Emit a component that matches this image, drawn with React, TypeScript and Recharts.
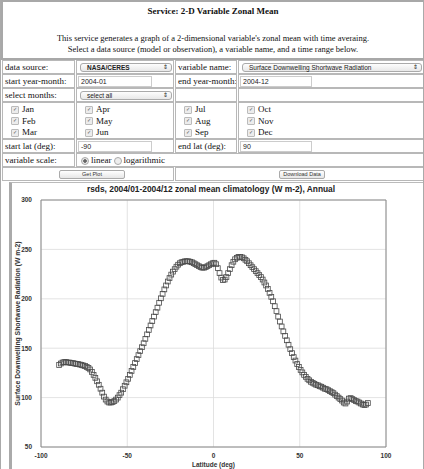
import React from 'react';
import { ScatterChart, Scatter, XAxis, YAxis, CartesianGrid, ReferenceArea } from 'recharts';

const latitudes = [
  -89.5, -88.5, -87.5, -86.5, -85.5, -84.5, -83.5, -82.5, -81.5, -80.5,
  -79.5, -78.5, -77.5, -76.5, -75.5, -74.5, -73.5, -72.5, -71.5, -70.5,
  -69.5, -68.5, -67.5, -66.5, -65.5, -64.5, -63.5, -62.5, -61.5, -60.5,
  -59.5, -58.5, -57.5, -56.5, -55.5, -54.5, -53.5, -52.5, -51.5, -50.5,
  -49.5, -48.5, -47.5, -46.5, -45.5, -44.5, -43.5, -42.5, -41.5, -40.5,
  -39.5, -38.5, -37.5, -36.5, -35.5, -34.5, -33.5, -32.5, -31.5, -30.5,
  -29.5, -28.5, -27.5, -26.5, -25.5, -24.5, -23.5, -22.5, -21.5, -20.5,
  -19.5, -18.5, -17.5, -16.5, -15.5, -14.5, -13.5, -12.5, -11.5, -10.5,
  -9.5, -8.5, -7.5, -6.5, -5.5, -4.5, -3.5, -2.5, -1.5, -0.5,
  0.5, 1.5, 2.5, 3.5, 4.5, 5.5, 6.5, 7.5, 8.5, 9.5,
  10.5, 11.5, 12.5, 13.5, 14.5, 15.5, 16.5, 17.5, 18.5, 19.5,
  20.5, 21.5, 22.5, 23.5, 24.5, 25.5, 26.5, 27.5, 28.5, 29.5,
  30.5, 31.5, 32.5, 33.5, 34.5, 35.5, 36.5, 37.5, 38.5, 39.5,
  40.5, 41.5, 42.5, 43.5, 44.5, 45.5, 46.5, 47.5, 48.5, 49.5,
  50.5, 51.5, 52.5, 53.5, 54.5, 55.5, 56.5, 57.5, 58.5, 59.5,
  60.5, 61.5, 62.5, 63.5, 64.5, 65.5, 66.5, 67.5, 68.5, 69.5,
  70.5, 71.5, 72.5, 73.5, 74.5, 75.5, 76.5, 77.5, 78.5, 79.5,
  80.5, 81.5, 82.5, 83.5, 84.5, 85.5, 86.5, 87.5, 88.5, 89.5,
];

const rsds = [
  133, 134.5, 135.5, 136, 136, 135.5, 135.5, 135, 135, 134.5,
  134, 134, 133.5, 133, 132.5, 132, 131, 130, 128.5, 126,
  123, 120, 116.5, 113, 109, 105, 101, 98, 96, 95,
  95, 95.5, 96.5, 98, 100, 102.5, 105, 108.5, 112, 115.5,
  119, 123, 127, 131, 135, 139, 143, 147, 151, 155,
  159.5, 164, 168.5, 173, 177.5, 182, 186.5, 191, 196, 200.5,
  205, 209.5, 213.5, 217.5, 221, 224.5, 227.5, 230, 232.5, 234.5,
  236, 237, 237.5, 238, 238, 238, 237.5, 237, 236, 235,
  234, 233, 232, 231.5, 231.5, 232, 233, 234, 235, 236,
  236.5, 235, 231, 226, 221.5, 219, 219.5, 222, 226, 230,
  234, 237.5, 240, 241.5, 242.5, 242.5, 242, 241, 239.5, 238,
  236, 234, 232, 230, 228, 226, 224, 222, 219.5, 216.5,
  213.5, 210, 206, 202, 197.5, 192.5, 187.5, 182, 177, 172,
  167, 162.5, 158, 153.5, 149, 145, 141, 137.5, 134, 131,
  128, 125.5, 123, 121, 119, 117.5, 116, 115, 114, 113,
  112.5, 111.5, 111, 110, 109, 108.5, 107.5, 106.5, 105.5, 104.5,
  103, 101.5, 100, 98.5, 97, 95, 94, 96, 99, 99.5,
  98.5, 97.5, 96.5, 96, 95, 94, 93, 92.5, 93, 94.5,
];

const xTicks = [-100, -50, 0, 50, 100];
const yTicks = [50, 100, 150, 200, 250, 300];

const pageTitle = 'Service: 2-D Variable Zonal Mean';
const descLines = [
  "This service generates a graph of a 2-dimensional variable's zonal mean with time averaing.",
  'Select a data source (model or observation), a variable name, and a time range below.',
];
const monthCols = [
  ['Jan', 'Feb', 'Mar'],
  ['Apr', 'May', 'Jun'],
  ['Jul', 'Aug', 'Sep'],
  ['Oct', 'Nov', 'Dec'],
];
const chartTitle = 'rsds, 2004/01-2004/12 zonal mean climatology (W m-2), Annual';
const yLabel = 'Surface Downwelling Shortwave Radiation (W m-2)';
const xLabel = 'Latitude (deg)';

const data = latitudes.map((lat, i) => ({ lat, rsds: rsds[i] }));

const SERIF = '"Liberation Serif", "DejaVu Serif", serif';
const SANS = '"Liberation Sans", Arial, sans-serif';

const COLS: [number, number][] = [
  [1, 74],
  [75, 173],
  [174, 236],
  [237, 423],
];

const Cell = ({ x, y, w, h, children, style }: any) => (
  <div
    style={{
      position: 'absolute',
      left: x,
      top: y,
      width: w,
      height: h,
      boxSizing: 'border-box',
      border: '1px solid #b8b8b8',
      fontFamily: SERIF,
      fontSize: 9,
      color: '#111',
      lineHeight: `${h - 2}px`,
      paddingLeft: 2,
      whiteSpace: 'nowrap',
      overflow: 'hidden',
      ...style,
    }}
  >
    {children}
  </div>
);

const cell = (c0: number, c1: number) => ({ x: COLS[c0][0], w: COLS[c1][1] - COLS[c0][0] });

const SelectBox = ({ w, text }: any) => (
  <div
    style={{
      position: 'absolute',
      left: 3,
      top: 2,
      width: w,
      height: 9,
      boxSizing: 'border-box',
      border: '1px solid #aaa',
      borderRadius: 3,
      background: 'linear-gradient(#fdfdfd, #e8e8e8)',
      fontFamily: SANS,
      fontSize: 6.5,
      lineHeight: '7px',
      paddingLeft: 6,
      color: '#222',
    }}
  >
    {text}
    <span style={{ position: 'absolute', right: 3, top: 0, fontSize: 6 }}>⇕</span>
  </div>
);

const InputBox = ({ w, text }: any) => (
  <div
    style={{
      position: 'absolute',
      left: 1,
      top: 1,
      width: w,
      height: 11,
      boxSizing: 'border-box',
      border: '1px solid #ccc',
      fontFamily: SANS,
      fontSize: 7,
      lineHeight: '9px',
      paddingLeft: 2,
      color: '#222',
    }}
  >
    {text}
  </div>
);

const Check = () => (
  <span
    style={{
      display: 'inline-block',
      width: 6,
      height: 6,
      border: '1px solid #bbb',
      borderRadius: 1,
      background: '#ececec',
      fontSize: 5,
      lineHeight: '6px',
      textAlign: 'center',
      verticalAlign: 'middle',
      marginRight: 3,
      color: '#555',
    }}
  >
    ✓
  </span>
);

const Radio = ({ on }: any) => (
  <span
    style={{
      display: 'inline-block',
      width: 6,
      height: 6,
      border: '1px solid #aaa',
      borderRadius: 4,
      background: on ? 'radial-gradient(#666 0, #666 1.5px, #e6e6e6 2px)' : '#eee',
      verticalAlign: 'middle',
      marginRight: 2,
      marginLeft: 2,
    }}
  />
);

const Button = ({ x, w, text }: any) => (
  <div
    style={{
      position: 'absolute',
      left: x,
      top: 2,
      width: w,
      height: 9,
      boxSizing: 'border-box',
      border: '1px solid #aaa',
      borderRadius: 2,
      background: 'linear-gradient(#fff, #e6e6e6)',
      fontFamily: SANS,
      fontSize: 5.5,
      lineHeight: '7px',
      textAlign: 'center',
      color: '#333',
    }}
  >
    {text}
  </div>
);

const SquareMarker = (props: any) => {
  const { cx, cy } = props;
  if (cx == null || cy == null) return null;
  return <rect x={cx - 2.4} y={cy - 2.4} width={4.8} height={4.8} fill="none" stroke="#4a4a4a" strokeWidth={0.8} />;
};

const YLabelContent = (props: any) => {
  const vb = props.viewBox || {};
  const cx = 16;
  const cy = (vb.y ?? 19) + (vb.height ?? 247) / 2;
  return (
    <text
      x={cx}
      y={cy}
      transform={`rotate(-90, ${cx}, ${cy})`}
      textAnchor="middle"
      dominantBaseline="central"
      fontFamily={SANS}
      fontSize={6.8}
      fontWeight="bold"
      fill="#333"
    >
      {yLabel}
    </text>
  );
};

export default function App() {
  const rowY = [60, 74, 88, 102, 139, 153, 167];
  const rowH = [14, 14, 14, 37, 14, 14, 14];
  return (
    <div
      style={{
        position: 'absolute',
        left: 0,
        top: 0,
        width: 424,
        height: 469,
        background: '#fff',
        overflow: 'hidden',
        boxSizing: 'border-box',
        borderLeft: '1px solid #aaa',
        borderRight: '1px solid #aaa',
      }}
    >
      {/* header box */}
      <div
        style={{
          position: 'absolute',
          left: 0,
          top: 0,
          width: 424,
          height: 60,
          boxSizing: 'border-box',
          border: '2px solid #a8a8a8',
          fontFamily: SERIF,
          textAlign: 'center',
          color: '#111',
        }}
      >
        <div style={{ position: 'absolute', left: 0, right: 0, top: 4, fontSize: 9, fontWeight: 'bold', lineHeight: '11px' }}>
          {pageTitle}
        </div>
        <div style={{ position: 'absolute', left: 0, right: 0, top: 31, fontSize: 8.5, lineHeight: '11px' }}>
          {descLines.map((l) => (
            <div key={l}>{l}</div>
          ))}
        </div>
      </div>

      {/* row 1 */}
      <Cell {...cell(0, 0)} y={rowY[0]} h={rowH[0]}>data source:</Cell>
      <Cell {...cell(1, 1)} y={rowY[0]} h={rowH[0]}>
        <SelectBox w={92} text={<b>NASA/CERES</b>} />
      </Cell>
      <Cell {...cell(2, 2)} y={rowY[0]} h={rowH[0]}>variable name:</Cell>
      <Cell {...cell(3, 3)} y={rowY[0]} h={rowH[0]}>
        <SelectBox w={180} text="Surface Downwelling Shortwave Radiation" />
      </Cell>

      {/* row 2 */}
      <Cell {...cell(0, 0)} y={rowY[1]} h={rowH[1]}>start year-month:</Cell>
      <Cell {...cell(1, 1)} y={rowY[1]} h={rowH[1]}>
        <InputBox w={74} text="2004-01" />
      </Cell>
      <Cell {...cell(2, 2)} y={rowY[1]} h={rowH[1]}>end year-month:</Cell>
      <Cell {...cell(3, 3)} y={rowY[1]} h={rowH[1]}>
        <InputBox w={72} text="2004-12" />
      </Cell>

      {/* row 3 */}
      <Cell {...cell(0, 0)} y={rowY[2]} h={rowH[2]}>select months:</Cell>
      <Cell {...cell(1, 1)} y={rowY[2]} h={rowH[2]}>
        <SelectBox w={92} text="select all" />
      </Cell>
      <Cell {...cell(2, 2)} y={rowY[2]} h={rowH[2]}></Cell>
      <Cell {...cell(3, 3)} y={rowY[2]} h={rowH[2]}></Cell>

      {/* months */}
      {monthCols.map((col, ci) => (
        <Cell key={ci} {...cell(ci, ci)} y={rowY[3]} h={rowH[3]} style={{ lineHeight: '11.5px', paddingTop: 1, paddingLeft: 8 }}>
          {col.map((m) => (
            <div key={m}>
              <Check />
              {m}
            </div>
          ))}
        </Cell>
      ))}

      {/* start lat */}
      <Cell {...cell(0, 0)} y={rowY[4]} h={rowH[4]}>start lat (deg):</Cell>
      <Cell {...cell(1, 1)} y={rowY[4]} h={rowH[4]}>
        <InputBox w={74} text="-90" />
      </Cell>
      <Cell {...cell(2, 2)} y={rowY[4]} h={rowH[4]}>end lat (deg):</Cell>
      <Cell {...cell(3, 3)} y={rowY[4]} h={rowH[4]}>
        <InputBox w={72} text="90" />
      </Cell>

      {/* variable scale */}
      <Cell {...cell(0, 0)} y={rowY[5]} h={rowH[5]}>variable scale:</Cell>
      <Cell {...cell(1, 3)} y={rowY[5]} h={rowH[5]}>
        <Radio on />linear<Radio />logarithmic
      </Cell>

      {/* buttons */}
      <Cell {...cell(0, 1)} y={rowY[6]} h={rowH[6]}>
        <Button x={56} w={66} text="Get Plot" />
      </Cell>
      <Cell {...cell(2, 3)} y={rowY[6]} h={rowH[6]}>
        <Button x={103} w={46} text="Download Data" />
      </Cell>

      {/* chart panel */}
      <div
        style={{
          position: 'absolute',
          left: 8,
          top: 182,
          width: 414,
          height: 290,
          boxSizing: 'border-box',
          borderLeft: '3px solid #aaa',
          borderTop: '1px solid #bbb',
        }}
      />
      <div
        style={{
          position: 'absolute',
          left: 0,
          width: 420,
          top: 184,
          textAlign: 'center',
          fontFamily: SANS,
          fontSize: 8.4,
          fontWeight: 'bold',
          color: '#222',
          lineHeight: '11px',
        }}
      >
        {chartTitle}
      </div>
      <div style={{ position: 'absolute', left: 0, top: 181 }}>
        <ScatterChart width={424} height={288} margin={{ top: 19, right: 39, bottom: 0, left: 8 }}>
          <CartesianGrid stroke="#dcdcdc" strokeWidth={0.8} />
          <XAxis
            type="number"
            dataKey="lat"
            domain={[-100, 100]}
            ticks={xTicks}
            interval={0}
            height={22}
            tickLine={false}
            axisLine={false}
            tick={{ fontSize: 6.5, fontFamily: SANS, fontWeight: 'bold', fill: '#333' }}
            tickMargin={0}
            label={{ value: xLabel, position: 'insideBottom', offset: 2, fontSize: 6.5, fontFamily: SANS, fontWeight: 'bold', fill: '#333' }}
          />
          <YAxis
            type="number"
            dataKey="rsds"
            domain={[50, 300]}
            ticks={yTicks}
            interval={0}
            width={32}
            tickLine={false}
            axisLine={false}
            tick={{ fontSize: 6.5, fontFamily: SANS, fontWeight: 'bold', fill: '#333' }}
            tickMargin={3}
            label={<YLabelContent />}
          />
          <ReferenceArea x1={-100} x2={100} y1={50} y2={300} fill="none" stroke="#8a8a8a" strokeWidth={1} ifOverflow="visible" />
          <Scatter data={data} shape={<SquareMarker />} isAnimationActive={false} />
        </ScatterChart>
      </div>
    </div>
  );
}
